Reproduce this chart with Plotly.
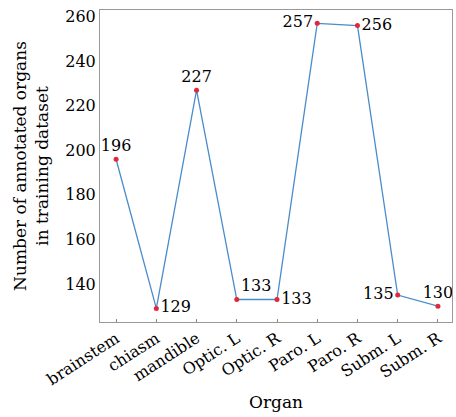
import plotly.graph_objects as go

organs = ["brainstem", "chiasm", "mandible", "Optic. L", "Optic. R",
          "Paro. L", "Paro. R", "Subm. L", "Subm. R"]
counts = [196, 129, 227, 133, 133, 257, 256, 135, 130]
label_pos = ["top center", "middle right", "top center", "top right", "middle right",
             "middle left", "middle right", "middle left", "top center"]

FONT = "DejaVu Serif"

fig = go.Figure(go.Scatter(
    x=list(range(len(organs))), y=counts,
    mode="lines+markers+text",
    line=dict(color="#4a8cca", width=1.3),
    marker=dict(color="#e0283a", size=5),
    text=[str(c) for c in counts],
    textposition=label_pos,
    textfont=dict(family=FONT, size=16, color="black"),
    cliponaxis=False,
))

fig.update_layout(
    width=456, height=417,
    margin=dict(l=100, r=4, t=10, b=95),
    paper_bgcolor="white", plot_bgcolor="white",
    showlegend=False,
    font=dict(family=FONT, size=16, color="black"),
)
fig.update_xaxes(
    range=[-0.4, 8.35],
    tickmode="array", tickvals=list(range(len(organs))), ticktext=organs,
    tickangle=-33, ticks="inside", ticklen=3, tickcolor="#888",
    showline=True, linecolor="#999", linewidth=1, mirror=True,
    showgrid=False, zeroline=False,
    tickfont=dict(family=FONT, size=16, color="black"),
    title=dict(text="Organ", font=dict(family=FONT, size=17), standoff=8),
)
fig.update_yaxes(
    range=[122.9, 263],
    tickvals=[140, 160, 180, 200, 220, 240, 260],
    ticks="", showline=True, linecolor="#999", linewidth=1, mirror=True,
    showgrid=False, zeroline=False,
    tickfont=dict(family=FONT, size=16, color="black"),
    title=dict(text="Number of annotated organs<br>in training dataset",
               font=dict(family=FONT, size=17), standoff=12),
)

fig.write_html("out.html")
